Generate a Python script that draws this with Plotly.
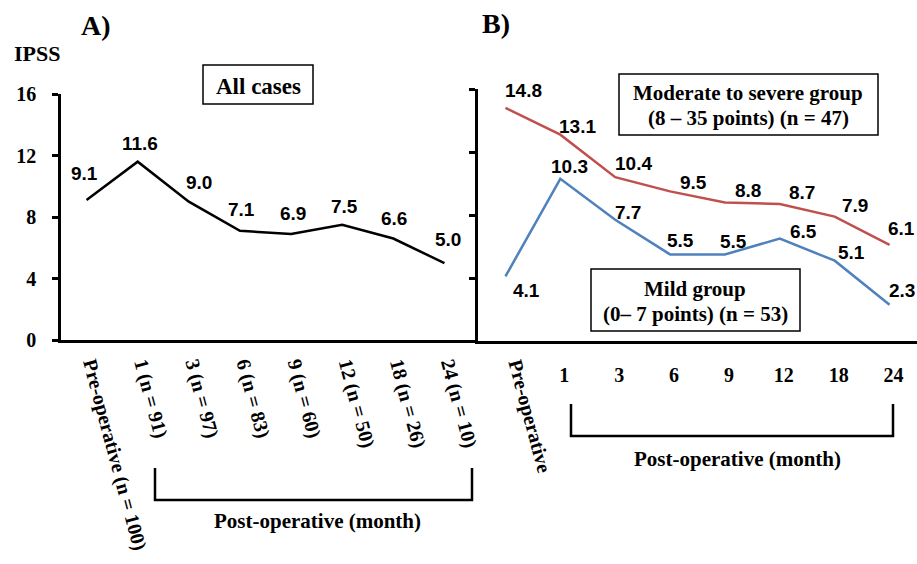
import plotly.graph_objects as go

W, H = 917, 564

# ---- data ----
cats_a = ["Pre-operative (n = 100)", "1 (n = 91)", "3 (n = 97)", "6 (n = 83)",
          "9 (n = 60)", "12 (n = 50)", "18 (n = 26)", "24 (n = 10)"]
all_cases = [9.1, 11.6, 9.0, 7.1, 6.9, 7.5, 6.6, 5.0]

cats_b = ["Pre-operative", "1", "3", "6", "9", "12", "18", "24"]
moderate_severe = [14.8, 13.1, 10.4, 9.5, 8.8, 8.7, 7.9, 6.1]
mild = [4.1, 10.3, 7.7, 5.5, 5.5, 6.5, 5.1, 2.3]

y_ticks = [0, 4, 8, 12, 16]

# ---- styles ----
SERIF = "Liberation Serif, Times New Roman, serif"
SANS = "Liberation Sans, Arial, sans-serif"
RED = "#C0504D"
BLUE = "#4F81BD"
LW = 2.5

# label offsets (pixels) per point
off_a = [(-2, 27), (2, 18), (10, 19), (2, 21), (2, 20), (2, 18), (1, 20), (4, 24)]
off_red = [(18, 17), (17, 8), (18, 14), (23, 9), (23, 12), (22, 11), (20, 11), (12, 16)]
off_blue = [(21, -14), (9, 12), (13, 7), (10, 14), (9, 13), (24, 7), (17, 8), (12, 14)]


def px(x):
    return x / W


def py(y):
    return 1 - y / H


fig = go.Figure()

fig.add_trace(go.Scatter(x=cats_a, y=all_cases, mode="lines",
                         line=dict(color="black", width=LW),
                         xaxis="x", yaxis="y", showlegend=False))
fig.add_trace(go.Scatter(x=cats_b, y=moderate_severe, mode="lines",
                         line=dict(color=RED, width=LW),
                         xaxis="x2", yaxis="y2", showlegend=False))
fig.add_trace(go.Scatter(x=cats_b, y=mild, mode="lines",
                         line=dict(color=BLUE, width=LW),
                         xaxis="x2", yaxis="y2", showlegend=False))

annotations = []
lab_font = dict(family=SANS, size=19, color="black", weight="bold")
for i, (v, (dx, dy)) in enumerate(zip(all_cases, off_a)):
    annotations.append(dict(x=i, y=v, xref="x", yref="y", text=f"{v:.1f}",
                            showarrow=False, xshift=dx, yshift=dy, font=lab_font))
for i, (v, (dx, dy)) in enumerate(zip(moderate_severe, off_red)):
    annotations.append(dict(x=i, y=v, xref="x2", yref="y2", text=f"{v:.1f}",
                            showarrow=False, xshift=dx, yshift=dy, font=lab_font))
for i, (v, (dx, dy)) in enumerate(zip(mild, off_blue)):
    annotations.append(dict(x=i, y=v, xref="x2", yref="y2", text=f"{v:.1f}",
                            showarrow=False, xshift=dx, yshift=dy, font=lab_font))

serif21 = dict(family=SERIF, size=21, color="black", weight="bold")


def txt(x, y, t, font, **kw):
    d = dict(x=px(x), y=py(y), xref="paper", yref="paper", text=t,
             showarrow=False, font=font, xanchor="center", yanchor="middle")
    d.update(kw)
    annotations.append(d)


title_font = dict(family=SERIF, size=28, color="black", weight="bold")
txt(96, 25, "A)", title_font)
txt(496, 24, "B)", title_font)
txt(37, 53, "IPSS", dict(family=SERIF, size=22, color="black", weight="bold"))
txt(258, 86, "All cases", dict(family=SERIF, size=23, color="black", weight="bold"))
txt(748, 93, "Moderate to severe group", serif21)
txt(748, 118, "(8 – 35 points) (n = 47)", serif21)
txt(695, 289, "Mild group", serif21)
txt(695, 314, "(0– 7 points) (n = 53)", serif21)
txt(317, 521, "Post-operative (month)", serif21)
txt(737, 459, "Post-operative (month)", serif21)
txt(530, 416, cats_b[0], dict(family=SERIF, size=20, color="black", weight="bold"),
    textangle=75)

shapes = []


def rect(x0, y0, x1, y1):
    shapes.append(dict(type="rect", xref="paper", yref="paper",
                       x0=px(x0), x1=px(x1), y0=py(y0), y1=py(y1),
                       line=dict(color="black", width=1.5)))


def bracket(x0, x1, ytop, ybot):
    shapes.append(dict(type="path", xref="paper", yref="paper",
                       path=f"M {px(x0)} {py(ytop)} L {px(x0)} {py(ybot)} "
                            f"L {px(x1)} {py(ybot)} L {px(x1)} {py(ytop)}",
                       line=dict(color="black", width=LW)))


rect(203, 65, 313, 104)
rect(619, 74, 878, 135)
rect(591, 269, 800, 331)
bracket(155, 472, 468, 500)
bracket(571, 893, 404, 436)

tick_font = dict(family=SERIF, size=20, color="black", weight="bold")

fig.update_layout(
    width=W, height=H,
    margin=dict(l=0, r=0, t=0, b=0, autoexpand=False),
    paper_bgcolor="white", plot_bgcolor="white",
    annotations=annotations, shapes=shapes,
    xaxis=dict(domain=[px(61), px(470)], anchor="y", type="category",
               categoryorder="array", categoryarray=cats_a, automargin=False,
               range=[-0.5, 7.5], showgrid=False, zeroline=False,
               showline=True, linecolor="black", linewidth=LW, ticks="",
               tickangle=75, tickfont=tick_font, ticklabelstandoff=2,
               ticklabelshift=6),
    yaxis=dict(domain=[py(340), py(94)], anchor="x", range=[0, 16], automargin=False,
               tickmode="array", tickvals=y_ticks, showgrid=False, zeroline=False,
               showline=True, linecolor="black", linewidth=LW,
               ticks="outside", ticklen=6, tickwidth=LW, tickcolor="black",
               tickfont=tick_font, ticklabelstandoff=12),
    xaxis2=dict(domain=[px(478), 1], anchor="y2", type="category",
                categoryorder="array", categoryarray=cats_b, automargin=False,
                range=[-0.5, 7.5], showgrid=False, zeroline=False,
                showline=True, linecolor="black", linewidth=LW, ticks="",
                tickmode="array", tickvals=cats_b[1:], ticktext=cats_b[1:],
                tickangle=0, tickfont=tick_font, ticklabelstandoff=14,
                ticklabelshift=4),
    yaxis2=dict(domain=[py(341), py(89)], anchor="x2", range=[0, 16], automargin=False,
                tickmode="array", tickvals=y_ticks, showticklabels=False,
                showgrid=False, zeroline=False,
                showline=True, linecolor="black", linewidth=LW,
                ticks="outside", ticklen=6, tickwidth=LW, tickcolor="black"),
)

fig.write_html("out.html",
               config={"displayModeBar": False},
               post_script="document.body.style.margin='0';"
                           "document.body.style.padding='0';"
                           "document.body.style.overflow='hidden';")
